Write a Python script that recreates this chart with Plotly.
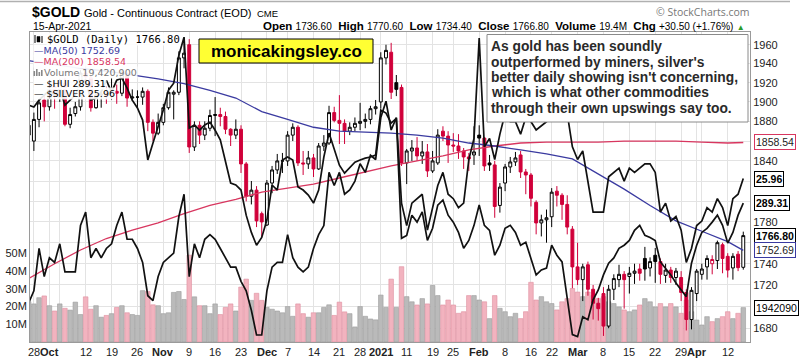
import numpy as np
import pandas as pd
import plotly.graph_objects as go

# ---------------- data ----------------
holidays = pd.to_datetime(["2020-11-26", "2020-12-25", "2021-01-01", "2021-01-18", "2021-02-15", "2021-04-02"])
dates = [d for d in pd.bdate_range("2020-09-25", "2021-04-15") if d not in holidays]

gold_open = [1876, 1860, 1882, 1902, 1895, 1916, 1905, 1919, 1877, 1888, 1895, 1930, 1925, 1894, 1907, 1908, 1906, 1911, 1909, 1929,
             1904, 1905, 1905, 1911, 1879, 1868, 1879, 1894, 1908, 1910, 1946, 1960, 1854, 1876, 1866, 1873, 1886, 1887, 1885, 1872,
             1866, 1872, 1837, 1805, 1811, 1788, 1777, 1818, 1831, 1840, 1840, 1866, 1874, 1838, 1837, 1843, 1832, 1855, 1858, 1889,
             1881, 1878, 1870, 1874, 1878, 1880, 1882, 1893, 1900, 1946, 1952, 1920, 1915, 1838, 1850, 1853, 1845, 1849, 1830, 1838,
             1870, 1865, 1856, 1855, 1850, 1844, 1846, 1866, 1863, 1838, 1836, 1796, 1818, 1834, 1839, 1846, 1829, 1826, 1799, 1779,
             1782, 1785, 1810, 1806, 1797, 1773, 1737, 1725, 1739, 1716, 1703, 1712, 1682, 1716, 1725, 1730, 1728, 1731, 1735, 1745,
             1736, 1748, 1742, 1729, 1734, 1727, 1727, 1713, 1688, 1712, 1730, 1737, 1740, 1743, 1758, 1747, 1736, 1749, 1736.6]
gold_high = [1882, 1889, 1903, 1908, 1918, 1921, 1924, 1925, 1894, 1900, 1933, 1937, 1927, 1912, 1912, 1916, 1925, 1918, 1934, 1931,
             1913, 1912, 1915, 1913, 1882, 1888, 1898, 1915, 1912, 1953, 1965, 1966, 1880, 1880, 1880, 1892, 1905, 1894, 1890, 1873,
             1882, 1876, 1839, 1820, 1815, 1790, 1821, 1835, 1847, 1848, 1870, 1878, 1876, 1850, 1850, 1847, 1858, 1866, 1896, 1895,
             1907, 1882, 1879, 1884, 1899, 1888, 1896, 1902, 1952, 1960, 1962, 1928, 1918, 1852, 1861, 1864, 1860, 1857, 1850, 1872,
             1875, 1870, 1868, 1867, 1853, 1848, 1875, 1876, 1864, 1846, 1840, 1818, 1837, 1844, 1849, 1850, 1832, 1828, 1801, 1787,
             1792, 1813, 1815, 1808, 1806, 1776, 1760, 1740, 1742, 1720, 1708, 1718, 1720, 1730, 1739, 1733, 1737, 1740, 1740, 1756,
             1746, 1755, 1745, 1740, 1737, 1736, 1733, 1716, 1718, 1735, 1740, 1748, 1748, 1762, 1760, 1750, 1750, 1752, 1770.6]
gold_low = [1851, 1850, 1874, 1880, 1891, 1893, 1900, 1875, 1873, 1885, 1891, 1915, 1890, 1893, 1894, 1898, 1902, 1898, 1906, 1895,
            1901, 1894, 1897, 1870, 1860, 1866, 1876, 1892, 1882, 1907, 1935, 1848, 1850, 1857, 1861, 1870, 1865, 1875, 1867, 1855,
            1862, 1828, 1800, 1797, 1775, 1765, 1776, 1808, 1827, 1828, 1835, 1860, 1835, 1826, 1832, 1824, 1831, 1850, 1856, 1879,
            1857, 1857, 1866, 1870, 1871, 1873, 1877, 1887, 1893, 1939, 1903, 1906, 1835, 1817, 1840, 1840, 1837, 1824, 1828, 1836,
            1860, 1838, 1849, 1842, 1832, 1830, 1836, 1845, 1830, 1830, 1784, 1789, 1810, 1828, 1835, 1823, 1807, 1795, 1768, 1766,
            1760, 1775, 1795, 1782, 1768, 1717, 1720, 1705, 1710, 1688, 1687, 1673, 1680, 1706, 1718, 1698, 1712, 1721, 1724, 1724,
            1728, 1722, 1721, 1722, 1722, 1720, 1705, 1678, 1679, 1705, 1725, 1725, 1730, 1735, 1731, 1727, 1725, 1733, 1734.4]
gold_close = [1866, 1882, 1899, 1895, 1916, 1907, 1920, 1877, 1887, 1895, 1930, 1926, 1894, 1907, 1908, 1906, 1911, 1909, 1929, 1904,
              1905, 1905, 1911, 1879, 1868, 1879, 1894, 1910, 1910, 1946, 1951, 1854, 1876, 1866, 1873, 1886, 1887, 1885, 1872, 1866,
              1872, 1837, 1805, 1811, 1781, 1780, 1818, 1831, 1840, 1840, 1866, 1874, 1838, 1837, 1843, 1832, 1855, 1858, 1889, 1881,
              1878, 1870, 1874, 1878, 1880, 1882, 1893, 1895, 1946, 1954, 1910, 1913, 1838, 1850, 1853, 1845, 1849, 1830, 1840, 1866,
              1865, 1856, 1855, 1850, 1844, 1842, 1849, 1863, 1835, 1836, 1795, 1814, 1834, 1839, 1843, 1829, 1826, 1803, 1779, 1782,
              1784, 1809, 1806, 1797, 1775, 1737, 1725, 1737, 1716, 1703, 1698, 1682, 1716, 1726, 1730, 1725, 1731, 1733, 1731, 1735,
              1742, 1742, 1730, 1734, 1727, 1733, 1713, 1688, 1715, 1733, 1735, 1745, 1744, 1760, 1745, 1734, 1747, 1736.3, 1766.8]
prior_close = 1860

volume_m = [22.7, 21.5, 25, 26, 20.5, 17.5, 21.5, 19, 18, 22.5, 15.5, 25.5, 18.5, 20.5, 14, 15, 16, 19.5, 20.5, 16.5,
            15.5, 15, 29, 28.5, 21, 20.5, 16, 16.5, 28, 28.5, 24, 49, 25.5, 20.5, 20.5, 16, 21.5, 15.5, 19.5, 21.5,
            17.5, 31, 35.5, 23.5, 27.5, 23.5, 19.5, 18.5, 17.5, 16.5, 20, 14.5, 21.5, 16, 14, 16.5, 16.5, 19.5, 21, 15,
            22.5, 17, 16, 8.5, 20, 14.5, 13, 12.5, 26.5, 19.5, 35.5, 19.5, 42.5, 25.6, 22.7, 20.9, 24.5, 21.5, 31.9, 26.2,
            20.9, 23.7, 20.9, 16.2, 17.1, 26.2, 26.2, 23.7, 22.7, 13.2, 26.2, 19, 17.1, 14.3, 16.2, 13.2, 17.1, 33.7, 23.7, 25.6,
            22.7, 21.7, 18.1, 22.7, 24.5, 30.2, 28.2, 25.6, 28.2, 26.2, 24.5, 25.6, 22.7, 21.7, 19.8, 18.1, 17.1, 18.1, 20.9, 24.5,
            22.7, 19.8, 21.7, 19.8, 21.7, 19.8, 16.2, 23.7, 17.1, 12.4, 9.6, 14.3, 11.5, 13.2, 14.3, 17.1, 13.2, 16.2, 19.42]

hui = [325.7, 325.0, 327.7, 329.7, 331.7, 329.7, 332.5, 325.7, 327.7, 329.7, 334.9, 335.7, 327.7, 328.5, 330.9, 335.7, 330.9, 335.7, 336.6, 332.5,
       327.7, 324.6, 319.9, 304.8, 311.1, 317.2, 323.8, 331.7, 334.5, 346.0, 353.7, 316.8, 318.0, 316.0, 318.0, 319.1, 316.0, 312.3, 303.7, 296.4,
       295.7, 293.9, 285.1, 279.2, 274.9, 277.5, 283.4, 295.7, 293.9, 304.8, 305.9, 304.8, 295.0, 293.9, 292.1, 289.3, 293.9, 305.9, 314.9, 308.5,
       302.9, 300.0, 302.2, 304.0, 304.8, 305.5, 305.9, 306.6, 323.8, 322.6, 318.7, 320.6, 277.2, 278.2, 285.1, 282.7, 286.2, 276.5, 280.6, 288.6,
       290.4, 285.1, 282.7, 279.2, 273.9, 276.5, 281.6, 288.6, 281.6, 279.9, 271.6, 274.9, 280.6, 281.6, 279.2, 274.9, 275.9, 270.7, 265.2, 266.8,
       267.4, 274.9, 271.6, 269.4, 257.3, 246.7, 246.1, 252.1, 251.2, 257.3, 260.4, 265.2, 269.0, 270.7, 273.9, 274.9, 276.5, 279.9, 281.6, 278.2,
       277.5, 276.5, 269.4, 267.4, 265.2, 262.6, 260.4, 258.3, 269.0, 274.9, 279.2, 280.6, 282.7, 285.1, 281.6, 275.6, 279.2, 285.1, 289.31]

silver = [23.25, 23.5, 24.4, 23.8, 24.2, 24.1, 24.5, 23.9, 23.9, 23.9, 24.9, 25.2, 24.2, 24.4, 24.2, 24.4, 24.5, 24.9, 25.2, 24.6,
          24.6, 24.4, 24.1, 23.4, 23.3, 23.8, 24.1, 24.2, 24.3, 25.1, 25.6, 23.8, 24.5, 24.2, 24.6, 24.7, 24.6, 24.4, 24.2, 24.0,
          24.0, 23.7, 23.5, 23.1, 22.6, 22.6, 23.5, 24.0, 24.1, 24.1, 24.7, 24.2, 24.0, 23.9, 24.0, 24.4, 24.7, 24.9, 26.1, 25.8,
          26.1, 25.6, 25.7, 25.9, 26.3, 26.1, 26.5, 26.4, 27.4, 27.8, 27.1, 27.4, 25.4, 24.9, 25.4, 25.5, 25.6, 24.8, 25.3, 25.8,
          26.1, 25.6, 25.5, 25.3, 25.4, 26.4, 26.9, 29.4, 26.7, 26.9, 26.4, 27.0, 27.5, 27.3, 27.3, 27.0, 27.4, 27.3, 27.1, 27.2,
          27.3, 28.1, 27.8, 27.6, 27.5, 26.7, 26.4, 26.6, 25.9, 25.2, 25.2, 25.2, 26.0, 26.1, 26.2, 25.9, 26.2, 26.1, 26.2, 26.3,
          26.3, 26.1, 25.2, 25.4, 25.0, 25.1, 24.8, 24.1, 24.4, 24.9, 25.0, 25.3, 25.2, 25.5, 25.3, 24.9, 25.5, 25.6, 25.96]

ma_dates = ["2020-09-25", "2020-10-02", "2020-10-09", "2020-10-16", "2020-10-23", "2020-10-30", "2020-11-06", "2020-11-13",
            "2020-11-20", "2020-11-30", "2020-12-07", "2020-12-14", "2020-12-21", "2020-12-29", "2021-01-06", "2021-01-13",
            "2021-01-21", "2021-01-28", "2021-02-04", "2021-02-11", "2021-02-19", "2021-02-26", "2021-03-05", "2021-03-12",
            "2021-03-19", "2021-03-26", "2021-04-05", "2021-04-12", "2021-04-15"]
ma50 = [1943, 1939, 1935, 1932, 1928, 1924, 1919, 1912, 1904, 1890, 1882, 1874, 1870, 1869, 1868, 1866, 1863, 1858, 1855,
        1851, 1847, 1842, 1827, 1812, 1796, 1781, 1771, 1761, 1752.69]
ma200 = [1726, 1740, 1753, 1764, 1772, 1779, 1788, 1796, 1802, 1809, 1813, 1817, 1823, 1829, 1835, 1840, 1845, 1851, 1855,
         1858, 1859, 1859, 1859, 1860, 1860, 1860, 1859, 1858, 1858.54]

tick_dates = ["2020-09-28", "2020-10-01", "2020-10-05", "2020-10-12", "2020-10-19", "2020-10-26", "2020-11-02", "2020-11-09",
              "2020-11-16", "2020-11-23", "2020-12-01", "2020-12-07", "2020-12-14", "2020-12-21", "2020-12-28", "2021-01-04",
              "2021-01-11", "2021-01-19", "2021-01-25", "2021-02-01", "2021-02-08", "2021-02-16", "2021-02-22", "2021-03-01",
              "2021-03-08", "2021-03-15", "2021-03-22", "2021-03-29", "2021-04-01", "2021-04-05", "2021-04-12"]
tick_labels = ["28", "<b>Oct</b>", "", "12", "19", "26", "<b>Nov</b>", "9", "16", "23", "<b>Dec</b>", "7", "14", "21", "28",
               "<b>2021</b>", "11", "19", "25", "<b>Feb</b>", "8", "16", "22", "<b>Mar</b>", "8", "15", "22", "29", "<b>Apr</b>", "", "12"]

price_ticks = list(range(1680, 1961, 20))
price_tick_text = [("" if v in (1700, 1760, 1800, 1820, 1860) else str(v)) for v in price_ticks]

# ---------------- helpers ----------------
pos = {d.strftime("%Y-%m-%d"): i - 1 for i, d in enumerate(dates)}
x = np.arange(len(dates)) - 1
W, H = 803, 362
L, R, T, B = 30, 750, 32, 342
XR = [-0.75, 138.3]


def px(v):
    return (v - L) / (R - L)


def py(v):
    return (B - v) / (B - T)


RED = "#d0003a"
fig = go.Figure()

prev = [prior_close] + gold_close[:-1]
vol_colors = ["#f2b3bf" if c < p else "#bababa" for c, p in zip(gold_close, prev)]
vol_lines = ["#df8ea0" if c < p else "#9c9c9c" for c, p in zip(gold_close, prev)]
fig.add_trace(go.Bar(x=x, y=volume_m, width=0.88, marker=dict(color=vol_colors, line=dict(color=vol_lines, width=0.6)),
                     yaxis="y", hoverinfo="skip"))

groups = {
    (True, True): ("#000000", "#ffffff"),
    (True, False): (RED, "#ffffff"),
    (False, True): ("#000000", "#000000"),
    (False, False): (RED, RED),
}
for key, (lc, fc) in groups.items():
    idx = [i for i in range(len(x)) if ((gold_close[i] >= gold_open[i]), (gold_close[i] >= prev[i])) == key]
    if not idx:
        continue
    fig.add_trace(go.Candlestick(
        x=[x[i] for i in idx], open=[gold_open[i] for i in idx], high=[gold_high[i] for i in idx],
        low=[gold_low[i] for i in idx], close=[gold_close[i] for i in idx], yaxis="y2",
        increasing=dict(line=dict(color=lc, width=1), fillcolor=fc),
        decreasing=dict(line=dict(color=lc, width=1), fillcolor=fc),
        whiskerwidth=0, hoverinfo="skip"))

ma_x = [pos[d] for d in ma_dates]
fig.add_trace(go.Scatter(x=ma_x, y=ma200, mode="lines", line=dict(color="#d8365f", width=1.3), yaxis="y2", hoverinfo="skip"))
fig.add_trace(go.Scatter(x=ma_x, y=ma50, mode="lines", line=dict(color="#3a3aa0", width=1.3), yaxis="y2", hoverinfo="skip"))
fig.add_trace(go.Scatter(x=x, y=hui, mode="lines", line=dict(color="#111111", width=1.7), yaxis="y3", hoverinfo="skip"))
fig.add_trace(go.Scatter(x=x, y=silver, mode="lines", line=dict(color="#111111", width=1.7), yaxis="y4", hoverinfo="skip"))

FONT = "Liberation Sans, Arial, sans-serif"
fig.update_layout(
    width=W, height=H, template="none", showlegend=False,
    paper_bgcolor="white", plot_bgcolor="white",
    margin=dict(l=L, r=W - R, t=T, b=H - B, pad=0, autoexpand=False),
    boxgap=0.2, bargap=0,
    font=dict(family=FONT, size=11, color="#222"),
    xaxis=dict(range=XR, tickvals=[pos[d] for d in tick_dates], showticklabels=False,
               showgrid=True, gridcolor="#e3e3e3", gridwidth=1, zeroline=False, showline=True, linecolor="#9a9a9a",
               mirror=True, ticks="", rangeslider=dict(visible=False), automargin=False, fixedrange=True),
    yaxis=dict(range=[0, 175], tickvals=[10, 20, 30, 40, 50], ticktext=["10M", "20M", "30M", "40M", "50M"],
               side="left", showgrid=False, zeroline=False, showline=True, linecolor="#9a9a9a", ticks="",
               automargin=False, tickfont=dict(size=11, color="#222")),
    yaxis2=dict(overlaying="y", side="right", type="log", range=[np.log10(1667.5), np.log10(1973.6)],
                tickvals=price_ticks, ticktext=price_tick_text, showgrid=True, gridcolor="#e3e3e3",
                zeroline=False, showline=True, linecolor="#9a9a9a", ticks="", automargin=False,
                tickfont=dict(size=11, color="#222")),
    yaxis3=dict(overlaying="y", type="log", range=[np.log10(244.5), np.log10(355.9)], visible=False, automargin=False),
    yaxis4=dict(overlaying="y", type="log", range=[np.log10(22.46), np.log10(29.557)], visible=False, automargin=False),
)

shapes = []
ann = []
# x-axis labels
for d, t in zip(tick_dates, tick_labels):
    if t:
        ann.append(dict(text=t, xref="x", yref="paper", x=pos[d], y=py(352), showarrow=False, xanchor="center",
                        yanchor="middle", font=dict(family=FONT, size=11, color="#222")))
# top rule
shapes.append(dict(type="line", xref="paper", yref="paper", x0=px(0), x1=px(790), y0=py(1.5), y1=py(1.5),
                   line=dict(color="#b0b0b0", width=1.5)))
# yellow box
shapes.append(dict(type="rect", xref="paper", yref="paper", x0=px(199), x1=px(373), y0=py(63), y1=py(39),
                   fillcolor="#ffff33", line=dict(color="#000", width=1), layer="above"))
ann.append(dict(text="<b>monicakingsley.co</b>", xref="paper", yref="paper", x=px(286), y=py(51.5),
                showarrow=False, font=dict(family=FONT, size=17, color="#000"), xanchor="center", yanchor="middle"))
# comment box
shapes.append(dict(type="rect", xref="paper", yref="paper", x0=px(487), x1=px(748), y0=py(122), y1=py(34.5),
                   fillcolor="#ffffff", line=dict(color="#8a8a8a", width=1), layer="above"))
comment_lines = ["As gold has been soundly", "outperformed by miners, silver's", "better daily showing isn't concerning,",
                 "which is what other commodities", "through their own upswings say too."]
for k, t in enumerate(comment_lines):
    ann.append(dict(text="<b>" + t + "</b>", xref="paper", yref="paper", x=px(489), y=py(47 + k * 15.3),
                    showarrow=False, xanchor="left", yanchor="middle", font=dict(family=FONT, size=13.8, color="#2a2a2a")))

# legend rows
legend_rows = [
    ("$GOLD (Daily) 1766.80", 46, 39, "#000", "DejaVu Sans Mono, monospace", 10.5),
    ("—MA(50) 1752.69", 33, 50.5, "#3a3aa0", "DejaVu Sans, sans-serif", 9.5),
    ("—MA(200) 1858.54", 33, 61.5, "#d8365f", "DejaVu Sans, sans-serif", 9.5),
    ("Volume 19,420,900", 43, 72.5, "#777", "DejaVu Sans, sans-serif", 9.5),
    ("— $HUI 289.31", 33, 83.5, "#000", "DejaVu Sans, sans-serif", 9.5),
    ("— $SILVER 25.96", 33, 94, "#000", "DejaVu Sans, sans-serif", 9.5),
]
for t, lx, ly, col, fam, fs in legend_rows:
    ann.append(dict(text=t, xref="paper", yref="paper", x=px(lx), y=py(ly), showarrow=False, xanchor="left",
                    yanchor="middle", bgcolor="rgba(255,255,255,0.9)", borderpad=0,
                    font=dict(family=fam, size=fs, color=col)))
# small legend icons
shapes.append(dict(type="line", xref="paper", yref="paper", x0=px(35), x1=px(35), y0=py(43), y1=py(35),
                   line=dict(color="#000", width=1), layer="above"))
shapes.append(dict(type="rect", xref="paper", yref="paper", x0=px(37), x1=px(40), y0=py(42), y1=py(36.5),
                   fillcolor="#000", line=dict(color="#000", width=0.5), layer="above"))
shapes.append(dict(type="line", xref="paper", yref="paper", x0=px(42), x1=px(42), y0=py(43), y1=py(36),
                   line=dict(color="#000", width=1), layer="above"))
for bx, bh in [(33.5, 5), (36, 7), (38.5, 4), (41, 6)]:
    shapes.append(dict(type="rect", xref="paper", yref="paper", x0=px(bx), x1=px(bx + 1.6), y0=py(76), y1=py(76 - bh),
                       fillcolor="#888", line=dict(width=0), layer="above"))

# titles
ann.append(dict(text="<b>$GOLD</b>", xref="paper", yref="paper", x=px(30), y=py(12), showarrow=False, xanchor="left",
                yanchor="middle", font=dict(family=FONT, size=14, color="#000")))
ann.append(dict(text="Gold - Continuous Contract (EOD)", xref="paper", yref="paper", x=px(82), y=py(13), showarrow=False,
                xanchor="left", yanchor="middle", font=dict(family=FONT, size=11, color="#000")))
ann.append(dict(text="CME", xref="paper", yref="paper", x=px(255), y=py(13.5), showarrow=False,
                xanchor="left", yanchor="middle", font=dict(family=FONT, size=9.5, color="#000")))
ann.append(dict(text="15-Apr-2021", xref="paper", yref="paper", x=px(31), y=py(26), showarrow=False,
                xanchor="left", yanchor="middle", font=dict(family=FONT, size=10.5, color="#000")))
info = ("<b>Open</b> <span style='font-size:10px'>1736.60</span>  <b>High</b> <span style='font-size:10px'>1770.60</span>  "
        "<b>Low</b> <span style='font-size:10px'>1734.40</span>  <b>Close</b> <span style='font-size:10px'>1766.80</span>  "
        "<b>Volume</b> <span style='font-size:10px'>19.4M</span>  <b>Chg</b> <span style='font-size:10px'>+30.50 (+1.76%)</span> "
        "<span style='color:#2a9a2a;font-size:8px'>▲</span>")
ann.append(dict(text=info, xref="paper", yref="paper", x=px(747), y=py(26), showarrow=False,
                xanchor="right", yanchor="middle", font=dict(family=FONT, size=11.5, color="#000")))
ann.append(dict(text="© StockCharts.com", xref="paper", yref="paper", x=px(752), y=py(12), showarrow=False,
                xanchor="right", yanchor="middle", font=dict(family="Open Sans, sans-serif", size=10.5, color="#777")))

# right-side value labels
labels = [
    ("1858.54", "y2", np.log10(ma200[-1]), "#d8365f", "#222", False),
    ("25.96", "y4", np.log10(silver[-1]), "#000", "#000", True),
    ("289.31", "y3", np.log10(hui[-1]), "#000", "#000", True),
    ("1766.80", "y2", np.log10(gold_close[-1]), "#000", "#000", True),
    ("1752.69", "y2", np.log10(ma50[-1]), "#3a3aa0", "#222", False),
    ("1942090", "y", volume_m[-1], "#000", "#000", False),
]
for t, yr, yv, bc, fc, bold in labels:
    ann.append(dict(text=("<b>" + t + "</b>") if bold else t, xref="paper", yref=yr, x=1, y=yv, xanchor="left",
                    yanchor="middle", xshift=4, showarrow=False, bgcolor="white", bordercolor=bc, borderwidth=1,
                    borderpad=1, font=dict(family=FONT, size=10.5, color=fc)))

fig.update_layout(shapes=shapes, annotations=ann)
fig.write_html("out.html", config={"staticPlot": True},
               post_script="document.body.style.margin='0px';document.body.style.padding='0px';"
                           "document.body.style.overflow='hidden';")
